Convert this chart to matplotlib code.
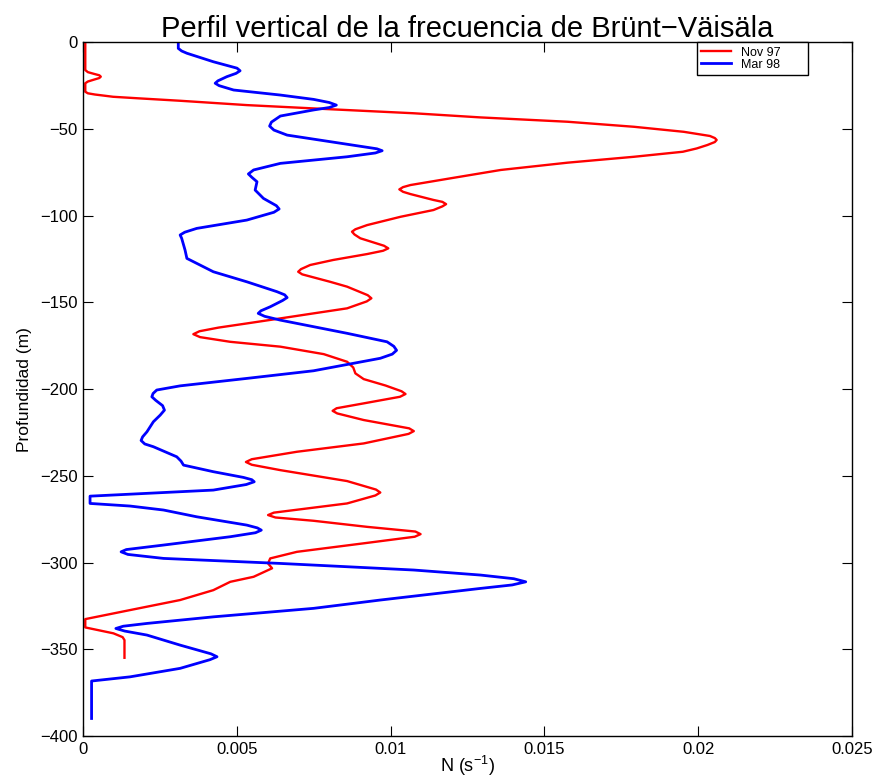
import matplotlib
matplotlib.use("Agg")
import matplotlib.pyplot as plt
from matplotlib import font_manager

# Brunt-Vaisala frequency profiles: depth (m) and N (s^-1)
nov97_depth = [0, -16.0, -17.2, -18.2, -19.0, -19.8, -20.6, -21.5, -22.6, -23.6,
               -28.5, -29.4, -30.1, -30.8, -31.4, -32.3, -33.7, -36.2, -38.5, -40.9,
               -43.3, -45.8, -48.7, -51.6, -54.0, -55.2, -56.3, -57.5, -59.2, -61.2,
               -63.1, -66.0, -69.4, -73.6, -78.4, -82.3, -83.5, -84.8, -86.2, -87.5,
               -90.9, -92.0, -93.3, -94.6, -96.7, -100.6, -105.4, -107.8, -109.2, -110.8,
               -113.0, -117.3, -118.8, -120.2, -122.1, -125.5, -128.4, -130.8, -132.3, -133.8,
               -138.1, -140.9, -145.8, -147.6, -149.4, -153.4, -156.3, -159.2, -162.1, -164.5,
               -166.6, -168.3, -170.0, -172.7, -175.5, -179.8, -184.2, -187.5, -190.9, -194.2,
               -197.9, -201.2, -202.8, -204.4, -208.2, -211.0, -212.5, -214.0, -217.8, -222.6,
               -224.2, -225.8, -231.3, -236.1, -240.4, -242.0, -243.6, -246.7, -253.0, -257.9,
               -259.6, -261.3, -265.9, -271.2, -272.6, -274.0, -275.9, -279.4, -282.1, -283.6,
               -285.1, -288.9, -293.8, -297.6, -300.5, -303.3, -308.2, -311.1, -315.9, -321.6,
               -327.4, -332.6, -337.4, -340.8, -343.0, -344.7, -354.9]
nov97_n = [0.000065, 0.000065, 0.00015, 0.00035, 0.00052, 0.00057, 0.00052, 0.00035, 0.00015, 0.000065,
           0.000065, 0.00015, 0.00038, 0.00070, 0.00097, 0.00180, 0.00315, 0.00532, 0.00793, 0.01074,
           0.01292, 0.01575, 0.01791, 0.01953, 0.02038, 0.02054, 0.02060, 0.02054, 0.02030, 0.01995,
           0.01950, 0.01791, 0.01575, 0.01358, 0.01195, 0.01064, 0.01040, 0.01028, 0.01040, 0.01064,
           0.01139, 0.01168, 0.01180, 0.01168, 0.01139, 0.01032, 0.00923, 0.00885, 0.00874, 0.00882,
           0.00901, 0.00978, 0.00992, 0.00975, 0.00923, 0.00813, 0.00738, 0.00708, 0.00699, 0.00712,
           0.00803, 0.00858, 0.00925, 0.00937, 0.00922, 0.00858, 0.00749, 0.00641, 0.00532, 0.00440,
           0.00378, 0.00358, 0.00380, 0.00478, 0.00641, 0.00782, 0.00858, 0.00878, 0.00885, 0.00912,
           0.00983, 0.01035, 0.01048, 0.01030, 0.00912, 0.00824, 0.00811, 0.00826, 0.00912, 0.01060,
           0.01075, 0.01058, 0.00912, 0.00695, 0.00548, 0.00529, 0.00548, 0.00641, 0.00858, 0.00952,
           0.00966, 0.00950, 0.00858, 0.00620, 0.00601, 0.00625, 0.00749, 0.00923, 0.01080, 0.01097,
           0.01078, 0.00912, 0.00695, 0.00608, 0.00601, 0.00614, 0.00554, 0.00478, 0.00423, 0.00315,
           0.00152, 0.000065, 0.000065, 0.00098, 0.00128, 0.00134, 0.00134]

mar98_depth = [0, -3.5, -5.0, -6.3, -11.2, -14.9, -16.4, -17.9, -19.8, -22.2,
               -23.6, -25.0, -27.5, -30.4, -32.9, -34.7, -36.2, -37.6, -39.0, -42.5,
               -46.0, -48.3, -50.6, -53.5, -57.3, -60.2, -61.4, -62.5, -63.8, -66.0,
               -69.8, -73.6, -75.9, -77.8, -80.4, -85.2, -90.0, -94.2, -96.1, -98.0,
               -102.5, -107.3, -109.5, -111.1, -113.0, -119.8, -124.6, -132.3, -138.1, -143.8,
               -145.6, -147.2, -148.9, -152.5, -154.8, -156.3, -158.0, -160.2, -167.8, -172.7,
               -175.3, -177.6, -179.8, -182.2, -189.4, -193.8, -198.1, -200.5, -202.5, -204.4,
               -206.5, -209.5, -212.1, -215.0, -218.8, -224.6, -227.5, -229.6, -231.6, -233.2,
               -239.0, -241.5, -243.8, -247.6, -250.9, -252.2, -253.4, -255.0, -258.2, -260.1,
               -261.7, -265.9, -267.4, -269.7, -273.6, -278.4, -280.0, -281.3, -282.8, -285.1,
               -289.9, -292.5, -293.8, -295.3, -297.6, -300.5, -304.3, -307.2, -309.3, -311.1,
               -312.9, -314.9, -321.6, -326.4, -331.3, -335.1, -336.7, -338.0, -339.5, -341.8,
               -347.6, -352.6, -354.3, -356.0, -361.0, -365.9, -368.3, -389.9]
mar98_n = [0.00309, 0.00309, 0.00320, 0.00337, 0.00423, 0.00500, 0.00510, 0.00497, 0.00467, 0.00438,
           0.00429, 0.00442, 0.00489, 0.00641, 0.00749, 0.00800, 0.00823, 0.00800, 0.00749, 0.00641,
           0.00612, 0.00606, 0.00620, 0.00663, 0.00804, 0.00912, 0.00955, 0.00972, 0.00950, 0.00858,
           0.00641, 0.00554, 0.00537, 0.00548, 0.00565, 0.00559, 0.00586, 0.00628, 0.00637, 0.00620,
           0.00532, 0.00369, 0.00330, 0.00315, 0.00320, 0.00331, 0.00337, 0.00423, 0.00532, 0.00630,
           0.00655, 0.00663, 0.00648, 0.00608, 0.00578, 0.00569, 0.00590, 0.00641, 0.00858, 0.00988,
           0.01010, 0.01019, 0.01005, 0.00966, 0.00749, 0.00532, 0.00315, 0.00239, 0.00227, 0.00223,
           0.00236, 0.00258, 0.00264, 0.00250, 0.00228, 0.00207, 0.00193, 0.00188, 0.00200, 0.00228,
           0.00304, 0.00318, 0.00326, 0.00423, 0.00521, 0.00548, 0.00556, 0.00530, 0.00423, 0.00207,
           0.00022, 0.00022, 0.00152, 0.00261, 0.00369, 0.00532, 0.00566, 0.00579, 0.00560, 0.00478,
           0.00261, 0.00140, 0.00123, 0.00145, 0.00261, 0.00641, 0.01075, 0.01292, 0.01400, 0.01439,
           0.01395, 0.01292, 0.00966, 0.00749, 0.00423, 0.00207, 0.00130, 0.00106, 0.00135, 0.00207,
           0.00315, 0.00415, 0.00435, 0.00412, 0.00315, 0.00152, 0.00027, 0.00027]

series_labels = ["Nov 97", "Mar 98"]
x_ticks = [0, 0.005, 0.01, 0.015, 0.02, 0.025]
x_tick_labels = ["0", "0.005", "0.01", "0.015", "0.02", "0.025"]
y_ticks = [0, -50, -100, -150, -200, -250, -300, -350, -400]
y_tick_labels = ["0", "\u221250", "\u2212100", "\u2212150", "\u2212200",
                 "\u2212250", "\u2212300", "\u2212350", "\u2212400"]


def has_font(name):
    try:
        font_manager.findfont(font_manager.FontProperties(family=name),
                              fallback_to_default=False)
        return True
    except Exception:
        return False


base = "Liberation Sans"
if has_font("Liberation Sans Narrow"):
    ylabel_family, ylabel_size = "Liberation Sans Narrow", 15
else:
    ylabel_family, ylabel_size = base, 12.5

plt.rcParams["font.family"] = [base, "DejaVu Sans"]
plt.rcParams["mathtext.fontset"] = "custom"
plt.rcParams["mathtext.rm"] = base
plt.rcParams["mathtext.it"] = base + ":italic"

fig = plt.figure(figsize=(8.72, 7.78), dpi=100)
ax = fig.add_axes([0.0955, 0.054, 0.8815, 0.8916])

ax.plot(nov97_n, nov97_depth, color=(1, 0, 0), lw=1.7, label=series_labels[0])
ax.plot(mar98_n, mar98_depth, color=(0, 0, 1), lw=2.0, label=series_labels[1])

ax.set_xlim(0, 0.025)
ax.set_ylim(-400, 0)
ax.set_xticks(x_ticks)
ax.set_xticklabels(x_tick_labels)
ax.set_yticks(y_ticks)
ax.set_yticklabels(y_tick_labels)
ax.tick_params(direction="in", length=7, width=0.8, top=True, right=True,
               labelsize=12, pad=4)
for s in ax.spines.values():
    s.set_linewidth(1.0)

ax.set_title("Perfil vertical de la frecuencia de Br\u00fcnt\u2212V\u00e4is\u00e4la",
             fontsize=21, pad=4)
ax.set_xlabel("N (s$^{-1}$)", fontsize=13)
ax.xaxis.set_label_coords(0.5, -0.026)
ax.set_ylabel("Profundidad (m)", fontsize=ylabel_size,
              family=[ylabel_family, "DejaVu Sans"], labelpad=6)

leg = ax.legend(loc="upper left", bbox_to_anchor=(0.798, 0.9, 0.145, 0.1),
                mode="expand", borderaxespad=0.0,
                fontsize=9, fancybox=False, framealpha=1, edgecolor="black",
                handlelength=2.4, handletextpad=0.8, borderpad=0.35,
                labelspacing=0.0)
leg.get_frame().set_linewidth(1.0)

fig.savefig("out.png", dpi=100)
